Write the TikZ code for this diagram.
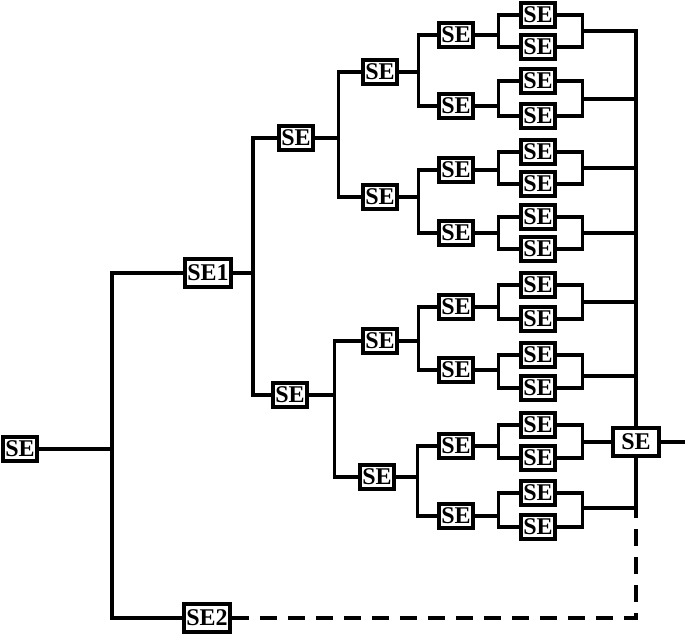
\documentclass[tikz,border=0pt]{standalone}
\usepackage{fontspec}
\setmainfont{Liberation Serif}
\usepackage{tikz}

\begin{document}
\begin{tikzpicture}[
    x=0.75pt, y=-0.75pt,
    se/.style={rectangle, draw=black, fill=white, line width=3pt,
               minimum width=26pt, minimum height=17.5pt, inner sep=0pt,
               font=\bfseries\fontsize{18}{18}\selectfont},
    sebig/.style={se, minimum width=34.5pt, minimum height=21pt},
    wire/.style={line width=2.5pt},
    dashwire/.style={wire, dash pattern=on 13pt off 8pt}
]
\useasboundingbox (0,0) rectangle (685,635);

% Input side
\node[se] (root) at (20,449) {SE};
\node[sebig] (se1) at (208,273) {SE1};
\node[sebig] (se2) at (207,618) {SE2};
\coordinate (trunk) at (112,449);

% Second and third level
\node[se] (a) at (296,138) {SE};
\node[se] (b) at (290,395) {SE};
\node[se] (a1) at (380,72) {SE};
\node[se] (a2) at (380,197) {SE};
\node[se] (b1) at (380,341) {SE};
\node[se] (b2) at (377,477) {SE};

% Fourth level and the parallel pairs
\foreach \i/\s/\pa/\pb/\o in {1/35/15/47/31, 2/106/81/116/99, 3/170/152/184/168,
    4/233/217/249/233, 5/307/285/319/302, 6/370/355/388/376,
    7/446/425/458/442, 8/516/493/527/508} {
  \node[se] (s\i) at (456,\s) {SE};
  \node[se] (p\i a) at (538,\pa) {SE};
  \node[se] (p\i b) at (538,\pb) {SE};
  \coordinate (j\i) at (582,\o);
}

% Output side
\node[sebig] (fin) at (636,442) {SE};
\coordinate (bus) at (636,0);
\coordinate (out) at (685,442);

% Tree wires
\draw[wire] (root.east) -- (trunk);
\draw[wire] (se1.west) -| (trunk) |- (se2.west);
\draw[wire] (se1.east) -- ++(20,0) |- (a.west);
\draw[wire] (se1.east) ++(20,0) |- (b.west);
\draw[wire] (a.east) -- ++(23,0) |- (a1.west);
\draw[wire] (a.east) ++(23,0) |- (a2.west);
\draw[wire] (b.east) -- ++(25,0) |- (b1.west);
\draw[wire] (b.east) ++(25,0) |- (b2.west);
\draw[wire] (a1.east) -- ++(19,0) |- (s1.west);
\draw[wire] (a1.east) ++(19,0) |- (s2.west);
\draw[wire] (a2.east) -- ++(19,0) |- (s3.west);
\draw[wire] (a2.east) ++(19,0) |- (s4.west);
\draw[wire] (b1.east) -- ++(19,0) |- (s5.west);
\draw[wire] (b1.east) ++(19,0) |- (s6.west);
\draw[wire] (b2.east) -- ++(21,0) |- (s7.west);
\draw[wire] (b2.east) ++(21,0) |- (s8.west);

% Parallel pairs
\foreach \i in {1,...,8} {
  \draw[wire] (s\i.east) -- ++(23,0) |- (p\i a.west);
  \draw[wire] (s\i.east) ++(23,0) |- (p\i b.west);
  \draw[wire] (p\i a.east) -- ++(25,0) |- (p\i b.east);
}

% Collecting bus
\foreach \i in {2,3,4,5,6} {
  \draw[wire] (j\i) -- (j\i -| bus);
}
\draw[wire] (j1) -- (j1 -| bus) -- (fin.north);
\draw[wire] (j8) -- (j8 -| bus) -- (fin.south);
\draw[wire] (j7) -- (fin.west);
\draw[wire] (fin.east) -- (out);

% Spare branch
\draw[dashwire] (se2.east) -| (j8 -| bus);

\end{tikzpicture}
\end{document}
